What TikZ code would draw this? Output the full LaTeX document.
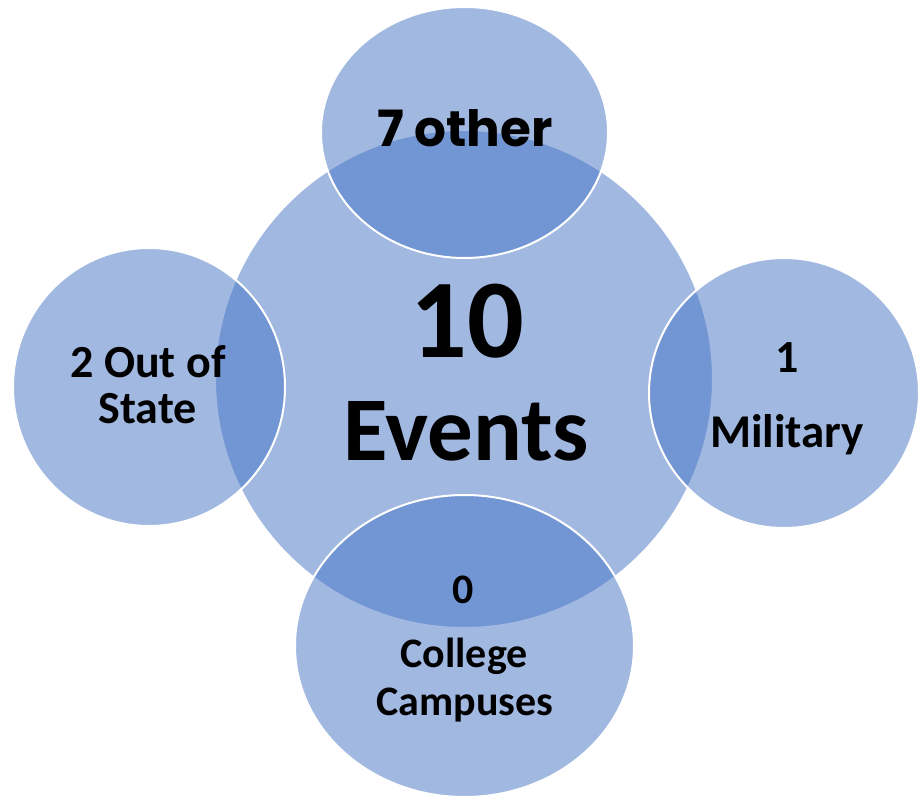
\documentclass[tikz,border=0pt]{standalone}
\usepackage{fontspec}
\setmainfont{Carlito}
\newfontfamily\geofont{Poppins}
\definecolor{accent}{RGB}{68,114,196}
\begin{document}
\begin{tikzpicture}[x=1pt,y=-1pt,
  bubble/.style={fill=accent,fill opacity=0.5,draw=white,line width=2pt},
  lbl/.style={anchor=base,inner sep=0pt,text=black,font=\bfseries}]
\useasboundingbox (0,0) rectangle (919,797);
% center
\path[bubble] (464,379) circle[radius=249];
% satellites
\path[bubble] (464.5,132.5) ellipse[x radius=143.5,y radius=125.5];
\path[bubble] (149,387) ellipse[x radius=136,y radius=139];
\path[bubble] (784,393) ellipse[x radius=135,y radius=135];
\path[bubble] (464.5,646) ellipse[x radius=169.5,y radius=151];
% labels
\node[lbl,font=\bfseries\fontsize{112}{112}\selectfont] (ten) at (467,357) {10};
\node[lbl,font=\bfseries\fontsize{91}{91}\selectfont] (events) at (466,460) {Events};
\node[lbl,font=\geofont\bfseries\fontsize{50}{50}\selectfont] (other) at (465,147) {7 other};
\node[lbl,font=\bfseries\fontsize{46}{46}\selectfont] (out) at (148,377) {2 Out of};
\node[lbl,font=\bfseries\fontsize{46}{46}\selectfont] (state) at (147.5,423) {State};
\node[lbl,font=\bfseries\fontsize{46}{46}\selectfont] (one) at (787,372) {1};
\node[lbl,font=\bfseries\fontsize{47}{47}\selectfont] (mil) at (787,447) {Military};
\node[lbl,font=\bfseries\fontsize{42}{42}\selectfont] (zero) at (463,603) {0};
\node[lbl,font=\bfseries\fontsize{42}{42}\selectfont] (college) at (464,667) {College};
\node[lbl,font=\bfseries\fontsize{42}{42}\selectfont] (campuses) at (465,715) {Campuses};
\end{tikzpicture}
\end{document}
